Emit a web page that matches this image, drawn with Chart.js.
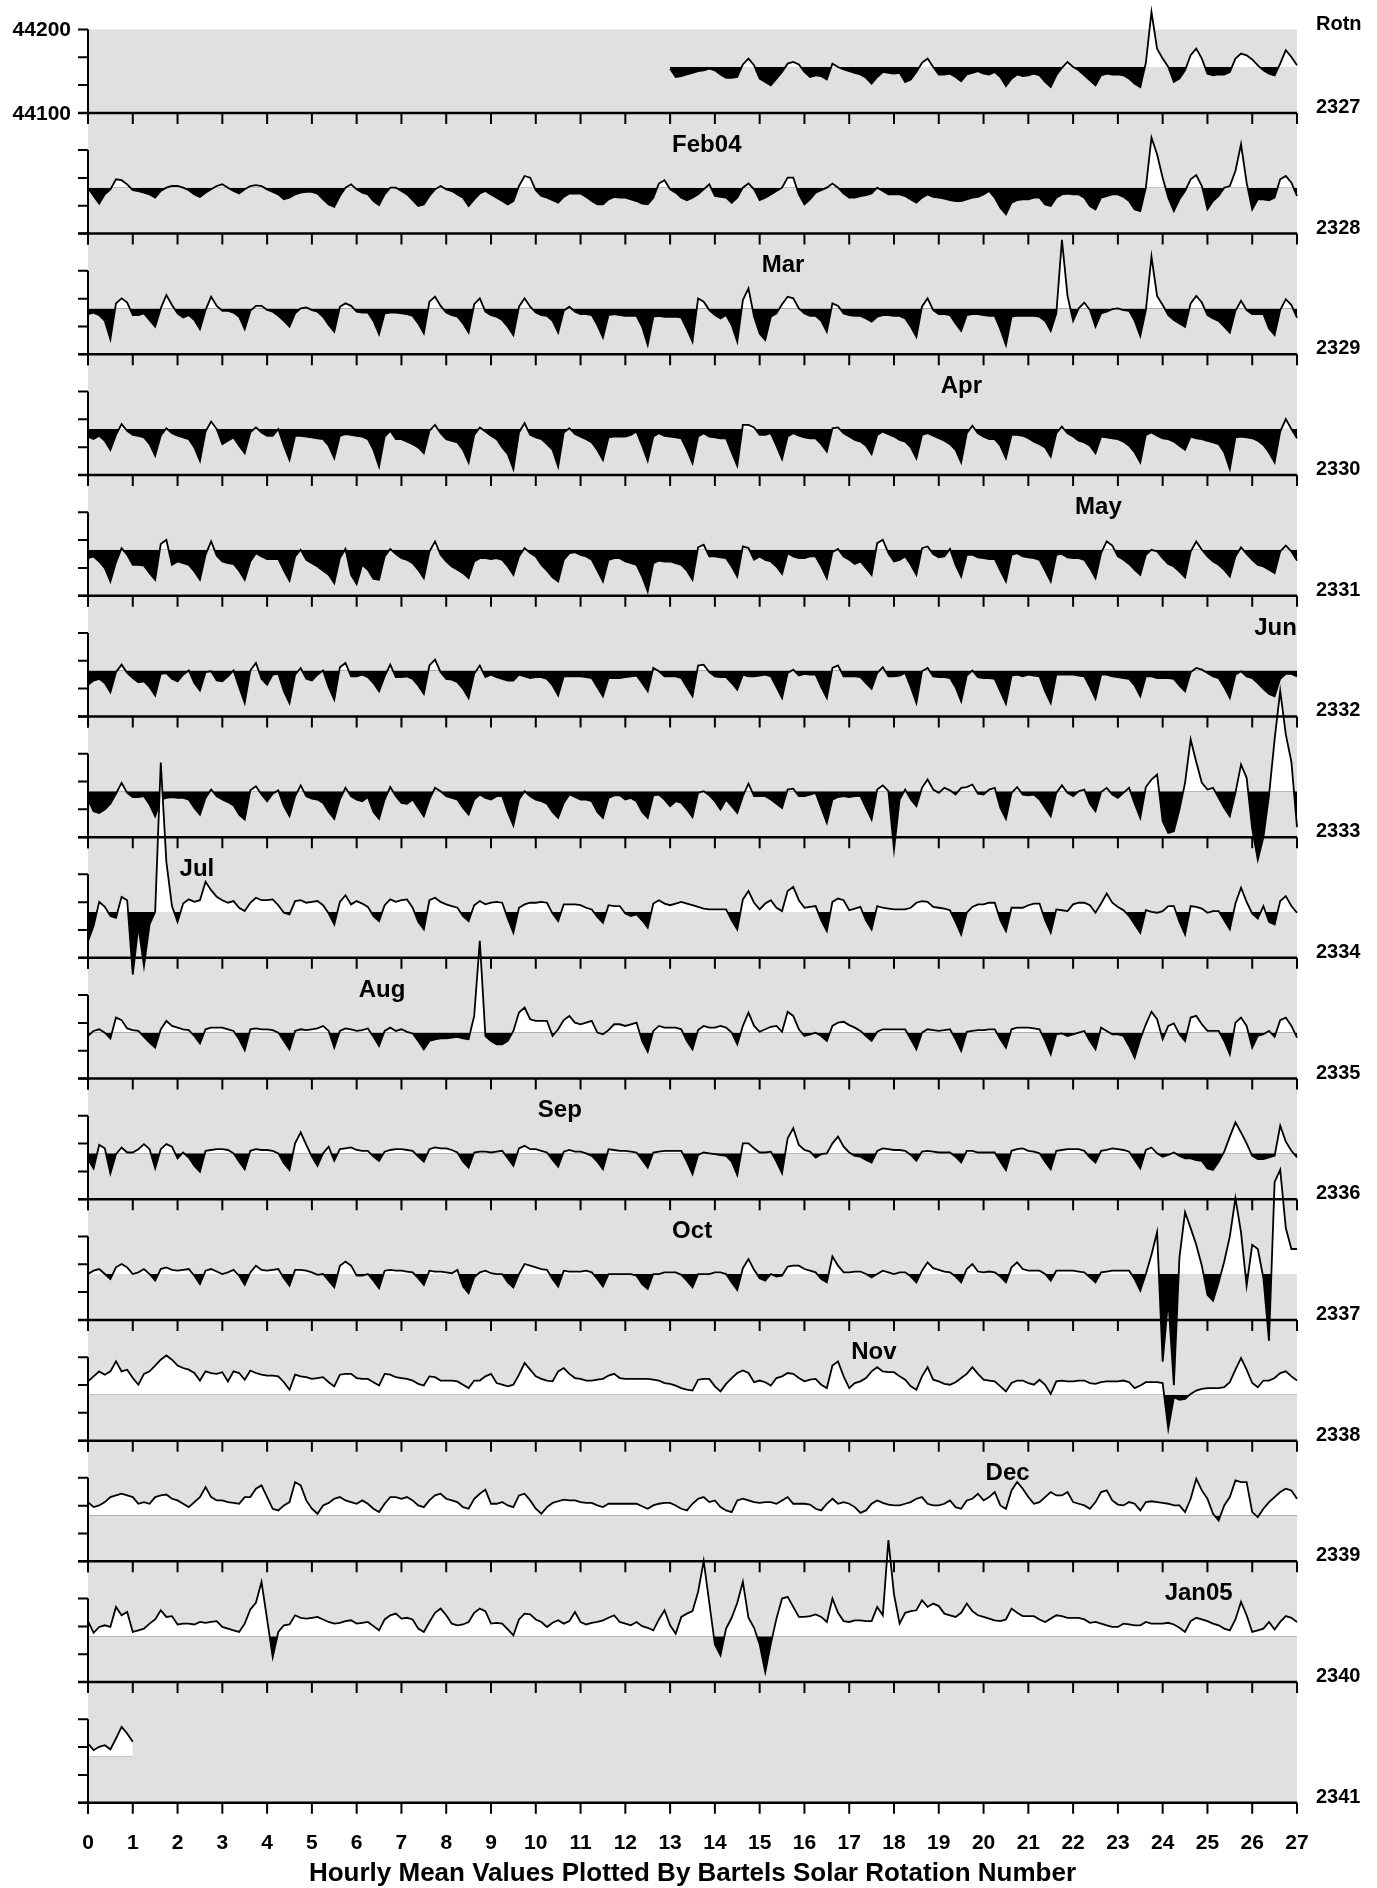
<!DOCTYPE html>
<html lang="en">

<head>
    <meta charset="UTF-8">
    <title>Hourly Mean Values Plotted By Bartels Solar Rotation Number</title>
    <script src="https://cdn.jsdelivr.net/npm/chart.js@4.4.1/dist/chart.umd.min.js"></script>
    <style>
        body { margin: 0; background: #fff; }
        .chart-container { position: relative; width: 1377px; height: 1888px; }
    </style>
</head>

<body>

    <!--chart canvas start-->
    <div class="chart-container">
        <canvas id="chart" width="1377" height="1888"></canvas>
    </div>
    <!--chart canvas end-->

    <script>

    // one row per Bartels rotation, values are nT above/below the rotation baseline (~44155 nT),
    // read off every 3 hours (8 per day)
    const rotations = [2327, 2328, 2329, 2330, 2331, 2332, 2333, 2334, 2335, 2336, 2337, 2338, 2339, 2340, 2341];
    const startDay = [13, 0, 0, 0, 0, 0, 0, 0, 0, 0, 0, 0, 0, 0, 0];
    const baselineNT = 44155;

    const rot2327 = [
        -2,-12,-11,-9,-7,-5,-4,-2,  -4,-9,-13,-13,-12,3,10,2,  -14,-18,-22,-14,-6,4,6,3,
        -6,-12,-10,-11,-15,4,0,-3,  -5,-7,-9,-13,-20,-12,-6,-7,  -8,-7,-18,-15,-6,5,10,0,
        -9,-9,-8,-12,-17,-9,-7,-5,  -8,-9,-6,-12,-23,-14,-9,-11,  -10,-8,-10,-18,-24,-10,-1,6,
        0,-4,-10,-16,-22,-10,-8,-9,  -9,-10,-14,-20,-24,5,66,22,  10,0,-18,-14,-4,14,22,10,
        -8,-10,-9,-9,-6,10,16,14,  9,2,-4,-8,-10,4,20,12,  2
    ];
    const rot2328 = [
        0,-10,-19,-8,-2,10,9,4,  -3,-4,-6,-8,-12,-4,0,2,  2,0,-3,-8,-11,-6,-2,2,
        4,0,-4,-7,-2,2,3,2,  -2,-5,-8,-14,-12,-8,-6,-5,  -5,-7,-14,-20,-23,-10,0,4,
        -2,-6,-8,-16,-21,-8,0,0,  -4,-8,-15,-22,-20,-10,-2,2,  -2,-4,-8,-12,-22,-14,-7,-4,
        -8,-12,-16,-20,-16,2,14,12,  -3,-10,-12,-15,-18,-11,-7,-7,  -7,-11,-16,-20,-20,-14,-11,-12,
        -12,-14,-16,-19,-20,-12,5,9,  -2,-6,-12,-15,-12,-8,-2,4,  -10,-11,-12,-18,-12,0,5,-2,
        -15,-12,-8,-4,0,12,12,-8,  -20,-14,-6,-3,0,5,0,-7,  -12,-12,-10,-9,-7,0,-4,-8,
        -8,-8,-10,-14,-18,-12,-8,-11,  -12,-13,-15,-16,-16,-14,-12,-11,  -8,-4,-12,-24,-32,-18,-15,-14,
        -14,-12,-12,-20,-22,-12,-8,-7,  -8,-8,-12,-22,-26,-12,-10,-8,  -8,-11,-16,-26,-28,0,60,40,
        12,-12,-28,-14,-4,10,15,2,  -26,-16,-10,0,2,20,52,6,  -26,-14,-14,-15,-12,10,14,6,
        -10
    ];
    const rot2329 = [
        -7,-5,-8,-15,-37,6,12,7,  -8,-8,-6,-14,-22,0,16,4,  -6,-11,-8,-14,-25,-2,14,3,
        -3,-3,-5,-10,-25,-3,3,3,  -2,-4,-9,-15,-22,-6,0,1,  -2,-4,-10,-20,-28,2,6,3,
        -4,-5,-5,-15,-31,-6,-5,-5,  -6,-7,-9,-18,-30,8,14,3,  -5,-8,-10,-18,-29,5,12,-4,
        -8,-10,-14,-22,-32,2,12,2,  -5,-8,-9,-15,-29,-3,2,-4,  -7,-7,-8,-20,-35,-8,-7,-8,
        -9,-9,-9,-22,-44,-10,-9,-10,  -10,-10,-11,-25,-40,12,8,-2,  -8,-12,-8,-20,-40,10,24,-10,
        -30,-38,-10,-6,5,14,12,0,  -6,-9,-9,-15,-28,6,3,-6,  -8,-9,-9,-12,-16,-10,-8,-8,
        -9,-9,-12,-22,-34,2,12,-2,  -7,-7,-8,-18,-27,-8,-7,-7,  -8,-9,-9,-25,-44,-10,-9,-9,
        -9,-9,-10,-15,-27,-6,82,15,  -15,0,7,-2,-22,-6,-4,-1,  0,-2,-3,-15,-33,-2,62,15,
        4,-8,-14,-18,-22,6,15,7,  -8,-12,-15,-22,-29,-3,9,-2,  -7,-7,-7,-24,-32,-2,11,4,
        -11
    ];
    const rot2330 = [
        -9,-12,-8,-14,-25,-7,6,-2,  -7,-8,-10,-18,-32,-8,1,-5,  -8,-10,-12,-22,-38,-3,9,0,
        -18,-14,-10,-20,-29,-4,2,-4,  -8,-8,0,-20,-37,-8,-8,-9,  -10,-11,-12,-20,-35,-8,-6,-7,
        -8,-9,-12,-25,-45,-9,-2,-12,  -12,-15,-18,-22,-29,-2,5,-5,  -12,-14,-16,-25,-40,-7,2,-3,
        -8,-12,-22,-30,-48,-4,7,-7,  -10,-12,-18,-25,-45,-4,1,-6,  -9,-12,-16,-25,-37,-10,-9,-9,
        -9,-7,-3,-20,-38,-9,-5,-8,  -9,-10,-11,-25,-41,-9,-5,-9,  -10,-11,-11,-28,-44,5,5,2,
        -7,-7,-5,-20,-36,-9,-5,-8,  -10,-11,-11,-18,-27,1,2,-5,  -9,-13,-15,-20,-30,-7,-3,-6,
        -9,-13,-15,-22,-35,-7,-5,-8,  -11,-14,-18,-25,-40,-5,4,-5,  -9,-12,-12,-20,-35,-7,-7,-8,
        -11,-15,-18,-22,-33,-5,3,-5,  -9,-14,-16,-20,-29,-9,-10,-11,  -12,-15,-20,-28,-40,-7,-4,-8,
        -11,-12,-15,-20,-25,-9,-11,-12,  -14,-16,-18,-28,-48,-10,-9,-10,  -11,-14,-19,-28,-40,-3,12,0,
        -11
    ];
    const rot2331 = [
        -10,-8,-14,-22,-38,-15,2,-6,  -18,-18,-19,-28,-36,7,12,-18,  -14,-16,-18,-26,-36,-6,10,-7,
        -14,-16,-17,-25,-36,-14,-4,-8,  -11,-11,-11,-25,-37,-8,0,-12,  -16,-20,-25,-30,-40,-10,1,-30,
        -41,-18,-24,-35,-36,-8,1,-5,  -10,-12,-16,-24,-34,-2,10,-6,  -14,-20,-24,-28,-34,-14,-10,-10,
        -11,-10,-12,-20,-30,-8,2,-4,  -8,-18,-25,-33,-38,-12,-4,-3,  -6,-8,-12,-25,-38,-12,-10,-10,
        -14,-16,-18,-32,-50,-16,-13,-14,  -14,-16,-18,-25,-36,3,6,-8,  -8,-9,-10,-20,-32,4,2,-12,
        -8,-12,-14,-20,-29,-4,-8,-10,  -10,-8,-8,-20,-34,-3,1,-8,  -12,-17,-14,-22,-30,8,12,-4,
        -14,-12,-8,-18,-30,2,4,-5,  -9,-8,1,-18,-32,-6,-6,-9,  -10,-11,-11,-25,-38,-6,-4,-8,
        -9,-10,-12,-25,-38,-6,-5,-9,  -10,-10,-12,-22,-34,-4,10,5,  -8,-12,-17,-24,-30,-6,0,-2,
        -10,-17,-20,-26,-33,-2,10,0,  -8,-14,-18,-24,-32,-8,3,-5,  -12,-18,-20,-24,-28,-2,5,-2,
        -13
    ];
    const rot2332 = [
        -17,-12,-10,-15,-26,-2,7,-3,  -9,-14,-13,-20,-30,-4,-3,-10,  -13,-5,0,-15,-24,-2,-1,-12,
        -13,-7,0,-20,-39,0,9,-10,  -17,-5,-4,-25,-39,-5,3,-10,  -12,-5,0,-20,-35,4,9,-7,
        -7,-5,-8,-15,-25,-7,7,-8,  -8,-7,-10,-18,-28,6,13,-2,  -10,-11,-14,-22,-33,-4,6,-8,
        -5,-8,-10,-12,-12,-5,-7,-9,  -8,-8,-10,-18,-30,-7,-7,-7,  -7,-8,-9,-20,-31,-9,-9,-9,
        -8,-7,-6,-15,-25,3,-1,-7,  -7,-7,-9,-20,-31,6,7,-2,  -7,-8,-8,-15,-23,-5,-7,-7,
        -6,-5,-7,-20,-33,-3,1,-6,  -4,-5,-5,-20,-33,3,6,-7,  -7,-7,-8,-15,-22,-3,4,-7,
        -7,-6,-3,-20,-39,-1,3,-7,  -8,-8,-9,-20,-37,-6,0,-8,  -9,-9,-10,-25,-40,-6,-5,-7,
        -5,-6,-7,-25,-39,-5,-5,-5,  -5,-6,-7,-20,-34,-5,-5,-7,  -8,-9,-10,-18,-31,-7,-7,-9,
        -9,-9,-10,-18,-25,-2,3,1,  -3,-7,-9,-20,-33,-5,-1,-7,  -9,-15,-22,-28,-31,-10,-4,-4,
        -7
    ];
    const rot2333 = [
        -10,-24,-26,-22,-15,-3,10,-2,  -7,-7,-6,-16,-30,-10,-8,-7,  -8,-8,-10,-20,-28,-8,2,-6,
        -10,-13,-17,-28,-34,1,6,-4,  -12,-3,1,-18,-30,-6,7,-6,  -9,-10,-14,-25,-33,-10,4,-6,
        -10,-12,-7,-25,-33,-10,5,-6,  -14,-15,-10,-20,-30,-10,4,0,  -6,-8,-10,-20,-28,-10,-4,-8,
        -10,-6,-6,-25,-41,-10,0,-6,  -10,-12,-15,-25,-32,-14,-4,-7,  -10,-10,-12,-25,-32,-8,-5,-5,
        -10,-8,-12,-25,-32,-5,-4,-10,  -18,-12,-14,-22,-31,-2,0,-5,  -12,-22,-10,-18,-26,-6,9,-6,
        -6,-6,-10,-15,-20,2,3,-6,  -6,-4,-2,-20,-38,-10,-7,-6,  -7,-6,-6,-20,-34,2,7,0,
        -70,-10,2,-10,-18,4,14,2,  -2,4,1,-4,4,5,8,-3,  -4,2,4,-20,-33,-2,5,-4,
        -5,-4,-10,-20,-30,-2,7,-2,  -6,0,2,-15,-24,-1,4,-4,  -8,-2,4,-15,-32,5,14,20,
        -36,-50,-48,-22,10,62,35,10,  2,4,-8,-20,-30,-2,32,16,  -45,-82,-55,-5,62,120,68,35,
        -43
    ];
    const rot2334 = [
        -35,-17,12,6,-5,-7,18,14,  -75,-17,-65,-15,0,179,60,7,  -12,10,15,12,14,36,26,18,
        14,11,13,5,1,11,17,14,  14,15,8,-1,-3,13,14,11,  12,13,8,-2,-15,12,20,9,
        13,10,6,-5,-11,8,15,12,  14,15,5,-12,-21,14,17,12,  9,7,5,-5,-11,8,13,9,
        11,12,11,-8,-25,5,9,11,  11,12,11,-2,-11,9,9,9,  8,5,3,-6,-13,8,7,7,
        -2,-5,-3,-10,-19,10,14,10,  8,10,12,10,8,6,4,3,  3,3,3,-10,-21,15,25,11,
        3,10,14,5,1,25,30,14,  5,6,7,-10,-23,12,16,14,  2,4,6,-10,-21,7,5,4,
        3,3,3,5,11,13,12,6,  5,4,2,-12,-27,-1,6,9,  9,11,11,-10,-23,5,5,5,
        8,10,10,-10,-25,3,2,1,  9,11,11,8,-1,10,22,11,  6,2,-5,-15,-25,2,0,-1,
        1,7,7,-12,-27,7,6,4,  -1,1,1,-10,-21,10,29,12,  -2,-8,7,-12,-15,13,19,7,
        -1
    ];
    const rot2335 = [
        -4,2,4,0,-7,18,15,5,  3,2,-5,-12,-18,4,14,8,  6,4,3,-4,-13,4,6,6,
        6,4,2,-8,-21,4,5,4,  4,3,0,-10,-20,2,4,3,  4,5,8,2,-18,2,5,4,
        2,3,5,-5,-16,2,6,2,  4,1,-1,-10,-20,-10,-8,-7,  -7,-6,-5,-7,-8,20,110,-4,
        -10,-14,-14,-10,2,24,30,16,  14,14,14,-4,4,15,20,12,  10,12,14,0,-2,3,10,10,
        8,10,12,-10,-23,2,8,6,  6,6,4,-10,-20,3,8,6,  6,8,6,0,-14,8,24,8,
        1,4,7,8,1,25,20,4,  -4,-2,0,-4,-10,8,12,13,  9,6,2,-4,-10,1,4,4,
        4,4,4,-8,-20,0,4,3,  2,3,4,-8,-22,1,2,3,  3,4,4,-8,-18,4,6,6,
        6,5,4,-10,-26,-2,-1,-4,  -2,0,2,-10,-20,6,2,-2,  -2,-4,-16,-30,-8,10,25,16,
        -8,8,11,-2,-10,18,20,10,  2,2,2,-10,-26,12,18,8,  -18,-4,-2,2,-5,15,18,8,
        -6
    ];
    const rot2336 = [
        -7,-18,10,6,-24,-1,7,1,  1,5,11,5,-18,5,11,8,  -6,1,-5,-15,-22,3,4,5,
        5,4,0,-10,-19,3,5,4,  4,3,0,-12,-20,12,25,10,  -4,-15,0,8,-9,5,6,7,
        4,3,3,-4,-9,2,4,5,  5,4,3,-4,-10,5,7,6,  6,4,1,-10,-17,1,2,2,
        1,2,3,-6,-15,6,9,5,  5,3,1,-8,-16,2,4,2,  2,0,-3,-10,-19,5,4,3,
        3,2,1,-8,-17,1,2,3,  3,3,3,-10,-25,-2,1,0,  -1,-2,-3,-10,-26,12,12,6,
        1,1,2,-10,-24,18,30,10,  4,2,-5,-1,0,12,20,8,  1,-3,-4,-8,-11,3,6,5,
        4,4,3,-2,-9,2,3,2,  1,1,1,-4,-11,3,3,1,  1,1,1,-10,-20,3,5,6,
        3,2,0,-10,-19,3,4,5,  5,5,3,-5,-11,3,4,6,  5,4,2,-8,-18,4,7,0,
        -4,-2,1,-3,-6,-6,-8,-9,  -18,-20,-10,2,20,37,25,12,  -3,-7,-7,-5,-3,33,14,3,
        -5
    ];
    const rot2337 = [
        0,4,6,0,-6,8,12,8,  0,2,6,0,-8,6,8,5,  4,5,6,-2,-12,4,6,3,
        0,2,5,-2,-13,2,10,5,  4,5,6,-5,-14,5,5,4,  2,-1,0,-8,-16,10,15,10,
        -2,-2,0,-8,-17,4,5,4,  4,3,2,-5,-13,4,3,3,  2,1,5,-15,-23,-4,2,4,
        1,0,0,-10,-16,0,12,10,  8,6,5,-6,-15,4,3,3,  3,4,2,-6,-15,0,0,0,
        0,0,-2,-12,-18,0,0,2,  2,2,-1,-8,-16,0,0,0,  2,2,0,-10,-19,7,18,5,
        -5,-8,0,-3,-2,9,10,10,  6,4,2,-6,-10,21,10,2,  2,3,3,0,-4,0,4,2,
        0,2,2,-3,-10,4,14,7,  5,3,2,-3,-10,6,12,3,  2,3,2,-3,-10,8,14,6,
        4,4,4,0,-8,4,4,4,  4,3,2,-4,-10,2,3,4,  4,4,4,-6,-20,0,23,50,
        -105,-30,-133,20,74,55,35,10,  -25,-32,-10,15,45,91,50,-14,  35,30,-5,-80,110,125,55,30,
        30
    ];
    const rot2338 = [
        16,22,28,24,28,40,28,30,  20,12,25,28,35,42,47,42,  35,32,30,26,17,28,26,25,
        27,16,28,26,18,29,26,24,  23,23,22,15,6,24,22,21,  19,20,21,15,10,24,25,25,
        20,19,19,15,11,25,24,21,  20,19,17,13,11,22,21,17,  17,17,16,12,8,17,17,22,
        25,14,12,10,12,24,38,30,  22,19,17,16,28,32,25,20,  19,17,17,18,19,23,25,20,
        19,19,19,19,19,18,17,14,  13,11,8,6,5,18,19,19,  10,4,13,20,26,29,26,15,
        17,15,11,20,22,26,25,20,  16,18,19,12,8,35,40,22,  8,14,16,20,28,33,28,27,
        27,22,18,10,6,22,33,18,  16,13,12,15,20,25,33,25,  18,17,16,10,4,14,17,17,
        14,12,18,12,1,16,17,16,  16,17,17,14,13,15,16,16,  16,17,15,8,11,15,15,15,
        14,-41,-3,-6,-5,1,5,7,  8,8,8,9,15,30,44,30,  14,9,17,17,20,26,28,22,
        17
    ];
    const rot2339 = [
        16,10,12,16,22,24,26,24,  22,14,16,14,22,24,25,20,  18,14,10,16,22,34,22,18,
        18,16,15,14,22,22,32,36,  22,8,6,12,16,40,36,18,  8,2,12,15,20,22,18,16,
        14,18,14,8,4,14,22,22,  20,22,18,12,10,18,24,26,  20,18,16,10,8,20,26,31,
        14,14,16,12,10,24,26,18,  8,2,10,15,17,19,18,18,  16,15,15,12,10,14,14,14,
        14,14,14,11,8,12,14,15,  15,12,8,6,14,20,22,16,  18,10,6,4,18,20,18,16,
        15,16,16,14,18,22,14,14,  14,13,8,6,14,20,14,16,  14,10,3,6,14,18,15,13,
        12,12,14,16,20,22,14,12,  12,14,18,10,8,18,20,26,  18,22,28,12,8,30,40,32,
        22,14,16,22,28,24,24,28,  16,14,12,8,16,28,30,18,  13,12,16,14,6,16,17,16,
        15,14,12,12,4,20,44,30,  20,2,-6,12,22,42,40,40,  4,-2,8,16,22,28,32,30,
        20
    ];
    const rot2340 = [
        18,4,11,13,11,35,25,29,  5,7,9,15,20,31,23,24,  14,15,15,14,17,16,17,18,
        11,9,7,5,15,32,40,65,  20,-25,5,13,14,25,22,21,  22,23,20,17,15,16,18,19,
        15,16,17,12,7,20,25,27,  21,22,20,9,5,17,28,33,  25,15,13,14,17,28,33,30,
        15,16,15,8,1,20,27,26,  20,17,11,16,19,15,18,29,  17,14,16,17,19,22,25,17,
        15,13,17,12,10,7,20,31,  13,3,23,27,30,53,90,40,  -10,-23,9,22,40,65,22,10,
        -10,-43,-9,21,45,47,35,23,  23,24,26,23,17,45,28,18,  17,19,19,18,18,35,25,115,
        50,15,28,30,31,43,35,39,  36,27,25,23,28,39,30,25,  23,21,19,18,20,33,28,24,
        24,24,20,17,21,25,24,22,  22,22,20,16,17,15,13,11,  11,15,14,13,13,17,15,15,
        15,16,14,10,5,18,22,20,  18,15,13,9,7,20,41,25,  5,7,9,17,8,17,24,22,
        17
    ];
    const rot2341 = [16, 8, 12, 14, 9, 22, 36, 28, 18];

    const series = [rot2327, rot2328, rot2329, rot2330, rot2331, rot2332, rot2333, rot2334,
                    rot2335, rot2336, rot2337, rot2338, rot2339, rot2340, rot2341];

    const dayTicks = [0, 1, 2, 3, 4, 5, 6, 7, 8, 9, 10, 11, 12, 13, 14, 15, 16, 17, 18, 19, 20, 21, 22, 23, 24, 25, 26, 27];
    const fieldLabels = [44200, 44100];

    const monthNames = ['Feb04', 'Mar', 'Apr', 'May', 'Jun', 'Jul', 'Aug', 'Sep', 'Oct', 'Nov', 'Dec', 'Jan05'];
    const monthRow = [1, 2, 3, 4, 5, 7, 8, 9, 10, 11, 12, 13];
    const monthDay = [13, 15, 19, 22, 26, 2, 6, 10, 13, 17, 20, 24];

    // layout of the stacked rows (nT)
    const PITCH = 144.56;      // spacing between rows
    const ROW_LOW = -55;       // row bottom line below baseline
    const ROW_HIGH = 45;       // top tick above baseline
    const GRAY = '#e0e0e0';
    const FONT = '"Liberation Sans", Arial, Helvetica, sans-serif';

    const datasets = series.map((vals, k) => ({
        label: String(rotations[k]),
        data: vals.map((v, i) => ({ x: startDay[k] + i / 8, y: v - k * PITCH })),
        borderColor: '#000',
        borderWidth: 1.8,
        pointRadius: 0,
        tension: 0,
        fill: { target: { value: -k * PITCH }, above: '#ffffff', below: '#000000' },
        order: series.length - 1 - k,
        clip: false
    }));

    // gray panel behind the data
    const backdrop = {
        id: 'backdrop',
        beforeDatasetsDraw(chart) {
            const { ctx, chartArea, scales: { y } } = chart;
            const top = y.getPixelForValue(ROW_HIGH);
            const bottom = y.getPixelForValue(-(series.length - 1) * PITCH + ROW_LOW);
            ctx.save();
            ctx.fillStyle = GRAY;
            ctx.fillRect(chartArea.left, top, chartArea.right - chartArea.left, bottom - top);
            ctx.restore();
        }
    };

    // axes for every row + all the text
    const rowAxes = {
        id: 'rowAxes',
        afterDatasetsDraw(chart) {
            const { ctx, chartArea, scales: { x, y } } = chart;
            const left = chartArea.left, right = chartArea.right;
            ctx.save();
            ctx.strokeStyle = '#000';
            ctx.lineCap = 'butt';

            series.forEach((vals, k) => {
                const base = -k * PITCH;
                const yb = y.getPixelForValue(base + ROW_LOW);
                const yt = y.getPixelForValue(base + ROW_HIGH);

                // left axis + ticks
                ctx.lineWidth = 2;
                ctx.beginPath();
                ctx.moveTo(left, yt);
                ctx.lineTo(left, yb + 11);
                for (let j = 0; j < 4; j++) {
                    const ty = y.getPixelForValue(base + ROW_HIGH - j * (ROW_HIGH - ROW_LOW) / 3);
                    ctx.moveTo(left - 10, ty);
                    ctx.lineTo(left, ty);
                }
                ctx.stroke();

                // bottom line
                ctx.lineWidth = 2.5;
                ctx.beginPath();
                ctx.moveTo(left - 10, yb);
                ctx.lineTo(right, yb);
                ctx.stroke();

                // day ticks
                ctx.lineWidth = 2;
                ctx.beginPath();
                dayTicks.forEach(d => {
                    const tx = x.getPixelForValue(d);
                    ctx.moveTo(tx, yb);
                    ctx.lineTo(tx, yb + 11);
                });
                ctx.stroke();
            });

            ctx.fillStyle = '#000';

            // rotation numbers on the right
            ctx.font = 'bold 20px ' + FONT;
            ctx.textAlign = 'left';
            ctx.textBaseline = 'alphabetic';
            ctx.fillText('Rotn', right + 19, y.getPixelForValue(ROW_HIGH) + 1);
            rotations.forEach((r, k) => {
                ctx.fillText(String(r), right + 19, y.getPixelForValue(-k * PITCH + ROW_LOW));
            });

            // field labels on the left
            ctx.font = 'bold 21px ' + FONT;
            ctx.textAlign = 'right';
            ctx.textBaseline = 'middle';
            fieldLabels.forEach(v => {
                ctx.fillText(String(v), left - 17, y.getPixelForValue(v - baselineNT) + 1);
            });

            // month labels
            ctx.font = 'bold 24px ' + FONT;
            ctx.textAlign = 'left';
            ctx.textBaseline = 'alphabetic';
            monthNames.forEach((m, i) => {
                const base = -monthRow[i] * PITCH;
                ctx.fillText(m, x.getPixelForValue(monthDay[i]) + 2, y.getPixelForValue(base + 43));
            });

            // day labels under the last row
            const lastBottom = y.getPixelForValue(-(series.length - 1) * PITCH + ROW_LOW);
            ctx.font = 'bold 21px ' + FONT;
            ctx.textAlign = 'center';
            ctx.textBaseline = 'middle';
            dayTicks.forEach(d => {
                ctx.fillText(String(d), x.getPixelForValue(d), lastBottom + 40);
            });

            ctx.font = 'bold 26px ' + FONT;
            ctx.fillText('Hourly Mean Values Plotted By Bartels Solar Rotation Number', (left + right) / 2, lastBottom + 71);
            ctx.restore();
        }
    };

    const ctx = document.getElementById('chart').getContext('2d');

    const myChart = new Chart(ctx, {
        type: 'line',
        data: { datasets: datasets },
        options: {
            responsive: false,
            maintainAspectRatio: false,
            animation: false,
            events: [],
            layout: {
                padding: { left: 88, right: 80, top: 0, bottom: 85 }
            },
            scales: {
                x: { type: 'linear', min: 0, max: 27, display: false },
                y: { type: 'linear', min: -2079.1, max: 80.2, display: false }
            },
            plugins: {
                legend: { display: false },
                tooltip: { enabled: false },
                filler: { drawTime: 'beforeDatasetDraw' }
            }
        },
        plugins: [backdrop, rowAxes]
    });

    </script>

</body>

</html>
